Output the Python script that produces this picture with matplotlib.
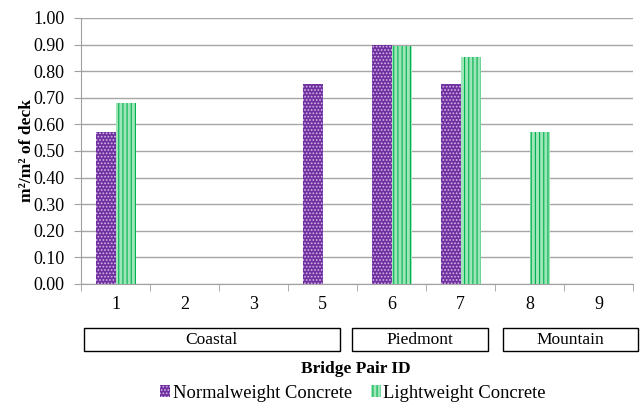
import matplotlib.pyplot as plt
import matplotlib.transforms as mtransforms
from matplotlib.patches import Rectangle
import numpy as np

plt.rcParams['font.family'] = ['Liberation Serif', 'DejaVu Serif']
plt.rcParams['hatch.linewidth'] = 0.8

# data
bridge_ids = ['1', '2', '3', '5', '6', '7', '8', '9']
normalweight = [0.57, 0, 0, 0.75, 0.90, 0.75, 0, 0]
lightweight = [0.68, 0, 0, 0, 0.895, 0.855, 0.57, 0]
regions = ['Coastal', 'Piedmont', 'Mountain']
region_spans = [(-0.46, 3.25), (3.43, 5.40), (5.62, 7.57)]

fig = plt.figure(figsize=(6.42, 4.05), dpi=100)
ax = fig.add_axes([0.1262, 0.2988, 0.8598, 0.6568])

fs = 12.5
x = np.arange(len(bridge_ids))
w = 0.29
purple = '#7030A0'
green_face = '#9EE6B8'
green_line = '#00B050'

ax.bar(x - w / 2, normalweight, w, color=purple, edgecolor='#D2B8E8',
       hatch='.....', linewidth=0, label='Normalweight Concrete', zorder=3)
ax.bar(x + w / 2, lightweight, w, color=green_face, edgecolor=green_line,
       hatch='||||', linewidth=0, label='Lightweight Concrete', zorder=3)

ax.set_xlim(-0.5, len(bridge_ids) - 0.5)
ax.set_ylim(0, 1.0)
yt = np.arange(0, 1.01, 0.1)
ax.set_yticks(yt)
ax.set_yticklabels([f'{v:.2f}' for v in yt], fontsize=13)
ax.set_xticks(x)
ax.set_xticklabels(bridge_ids, fontsize=13)
ax.set_xticks(np.arange(-0.5, len(bridge_ids)), minor=True)
ax.tick_params(axis='x', which='major', length=0, pad=9)
ax.tick_params(axis='x', which='minor', length=5, color='#A0A0A0')
ax.tick_params(axis='y', length=5, color='#A0A0A0', pad=7)

ax.yaxis.grid(True, color='#A6A6A6', linewidth=1.0, zorder=0)
ax.set_axisbelow(True)
for s in ['top', 'right']:
    ax.spines[s].set_visible(False)
ax.spines['left'].set_color('#A0A0A0')
ax.spines['bottom'].set_color('#A0A0A0')

ax.set_ylabel('m²/m² of deck', fontsize=fs, fontweight='bold')
ax.yaxis.set_label_coords(-0.083, 0.5)

# region boxes below the axis
trans = mtransforms.blended_transform_factory(ax.transData, fig.transFigure)
box_y0 = 1 - 351 / 405
box_h = 23 / 405
for name, (x0, x1) in zip(regions, region_spans):
    ax.add_patch(Rectangle((x0, box_y0), x1 - x0, box_h, transform=trans,
                           facecolor='white', edgecolor='black', linewidth=1.0,
                           clip_on=False))
    ax.text((x0 + x1) / 2, box_y0 + box_h / 2, name, transform=trans,
            ha='center', va='center', fontsize=fs)

fig.text(356 / 642, 1 - 369 / 405, 'Bridge Pair ID',
         ha='center', va='center', fontsize=fs, fontweight='bold')

ax.legend(loc='center', bbox_to_anchor=(353 / 642, 1 - 393 / 405),
          bbox_transform=fig.transFigure, ncol=2, frameon=False, fontsize=13.3,
          handlelength=0.55, handleheight=0.55, handletextpad=0.15,
          columnspacing=1.0)

fig.savefig('out.png', dpi=100)
